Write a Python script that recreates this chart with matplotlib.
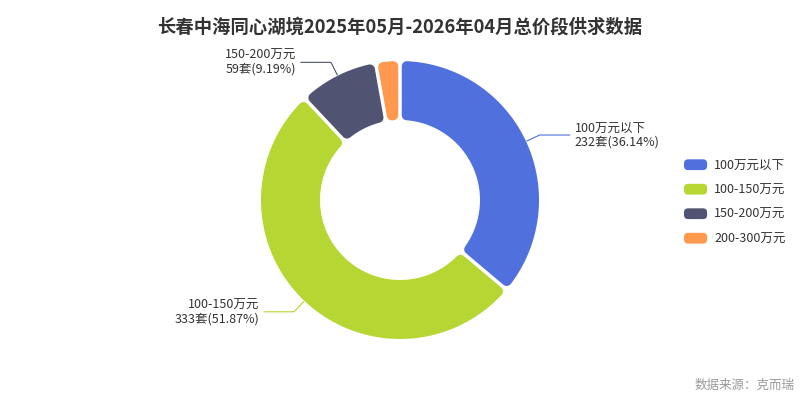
import numpy as np
import matplotlib
matplotlib.use("Agg")
import matplotlib.pyplot as plt
from matplotlib.patches import Polygon, FancyBboxPatch, Patch
from matplotlib.legend_handler import HandlerPatch

plt.rcParams['font.family'] = ['Noto Sans CJK SC', 'DejaVu Sans']

# data
categories = ['100万元以下', '100-150万元', '150-200万元', '200-300万元']
counts = [232, 333, 59, 18]
percents = [36.14, 51.87, 9.19, 2.80]
colors = ['#5070dd', '#b6d634', '#505372', '#ff994d']
show_label = [True, True, True, False]

title = '长春中海同心湖境2025年05月-2026年04月总价段供求数据'
source = '数据来源：克而瑞'

# geometry (pixel-like data units)
cx, cy = 400, 200
R_out, R_in = 139, 80
corner = 5      # rounded corner radius
gap = 3.5       # white gap between slices
px2pt = 0.72

fig = plt.figure(figsize=(8, 4), dpi=100)
ax = fig.add_axes([0, 0, 1, 1])
ax.set_xlim(0, 800)
ax.set_ylim(0, 400)
ax.set_aspect('equal')
ax.axis('off')

total = float(sum(counts))
cum = np.concatenate([[0], np.cumsum(counts)]) / total
starts = 90 - 360 * cum[:-1]   # clockwise from top
ends = 90 - 360 * cum[1:]


def ring_piece(t_start, t_end):
    # shrunk wedge outline, stroked later with round joins -> rounded corners
    g = gap / 2 + corner
    ro = R_out - corner
    ri = R_in + corner
    ao = np.degrees(np.arcsin(g / ro))
    ai = np.degrees(np.arcsin(g / ri))
    o1, o2 = t_start - ao, t_end + ao
    i1, i2 = t_end + ai, t_start - ai
    if i1 > i2:
        m = (t_start + t_end) / 2
        i1 = i2 = m
    to = np.radians(np.linspace(o1, o2, 80))
    ti = np.radians(np.linspace(i1, i2, 80))
    pts = np.vstack([
        np.column_stack([cx + ro * np.cos(to), cy + ro * np.sin(to)]),
        np.column_stack([cx + ri * np.cos(ti), cy + ri * np.sin(ti)]),
    ])
    return pts


for i in range(len(counts)):
    pts = ring_piece(starts[i], ends[i])
    ax.add_patch(Polygon(pts, closed=True, facecolor=colors[i], edgecolor=colors[i],
                         linewidth=2 * corner * px2pt, joinstyle='round'))

# labels with leader lines
for i in range(len(counts)):
    if not show_label[i]:
        continue
    mid = np.radians((starts[i] + ends[i]) / 2)
    x0, y0 = cx + (R_out + 1) * np.cos(mid), cy + (R_out + 1) * np.sin(mid)
    x1, y1 = cx + (R_out + 15) * np.cos(mid), cy + (R_out + 15) * np.sin(mid)
    side = 1 if np.cos(mid) >= 0 else -1
    x2 = x1 + side * 30
    ax.plot([x0, x1, x2], [y0, y1, y1], color=colors[i], linewidth=0.8)
    txt = '%s\n%d套(%.2f%%)' % (categories[i], counts[i], percents[i])
    ax.text(x2 + side * 5, y1, txt, ha='left' if side > 0 else 'right',
            multialignment='left' if side > 0 else 'right',
            va='center', fontsize=9, color='#333333', linespacing=1.05)

fig.text(0.5, 1 - 27 / 400, title, ha='center', va='center',
         fontsize=13.2, fontweight='bold', color='#333333')
fig.text(795 / 800, 1 - 385 / 400, source, ha='right', va='center',
         fontsize=9, color='#999999')


class RoundHandler(HandlerPatch):
    def create_artists(self, legend, orig_handle, xdescent, ydescent,
                       width, height, fontsize, trans):
        p = FancyBboxPatch((-xdescent, -ydescent), width, height,
                           boxstyle='round,pad=0,rounding_size=3',
                           facecolor=orig_handle.get_facecolor(),
                           edgecolor='none', transform=trans)
        return [p]


handles = [Patch(facecolor=c) for c in colors]
fig.legend(handles, categories, loc='upper left',
           bbox_to_anchor=(684 / 800, 1 - 159 / 400), frameon=False,
           fontsize=9, labelcolor='#333333', borderpad=0, borderaxespad=0,
           handlelength=1.85, handleheight=0.95, handletextpad=0.55,
           labelspacing=0.92, handler_map={Patch: RoundHandler()})

fig.savefig('out.png', dpi=100)
